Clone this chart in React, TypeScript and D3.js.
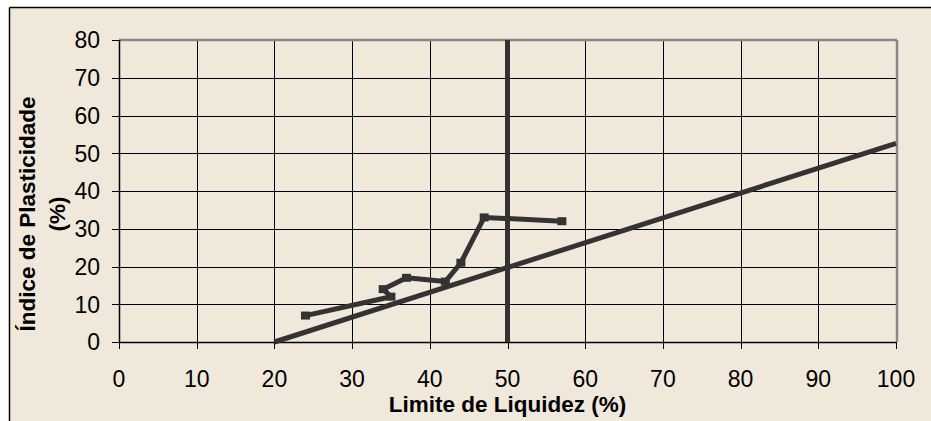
import React from "react";
import * as d3 from "d3";

const xTicks = [0, 10, 20, 30, 40, 50, 60, 70, 80, 90, 100];
const yTicks = [0, 10, 20, 30, 40, 50, 60, 70, 80];
const samplesLL = [24, 35, 34, 37, 42, 44, 47, 57];
const samplesIP = [7, 12, 14, 17, 16, 21, 33, 32];
const aLineLL = [20, 100];
const aLineIP = [0, 52.6];
const dividerLL = [50, 50];
const dividerIP = [0, 80];
const xTitle = "Limite de Liquidez (%)";
const yTitleLines = ["Índice de Plasticidade", "(%)"];

const W = 931;
const H = 421;
const left = 119, right = 896, top = 40, bottom = 342;
const dark = "#333333";
const font = "Liberation Sans, Arial, sans-serif";

export default function App() {
  const x = d3.scaleLinear().domain([0, 100]).range([left, right]);
  const y = d3.scaleLinear().domain([0, 80]).range([bottom, top]);
  const line = d3
    .line<[number, number]>()
    .x((d) => x(d[0]))
    .y((d) => y(d[1]));
  const samples: [number, number][] = samplesLL.map((v, i) => [v, samplesIP[i]]);
  const aLine: [number, number][] = aLineLL.map((v, i) => [v, aLineIP[i]]);
  const divider: [number, number][] = dividerLL.map((v, i) => [v, dividerIP[i]]);

  return (
    <svg
      width={W}
      height={H}
      style={{ position: "absolute", left: 0, top: 0, display: "block" }}
    >
      <rect x={0} y={0} width={W} height={H} fill="#ffffff" />
      <rect x={10} y={8} width={W - 10} height={H - 8} fill="#F0E8DA" />
      <line x1={9.5} y1={7.5} x2={W} y2={7.5} stroke="#000" strokeWidth={1.5} />
      <line x1={9.5} y1={7.5} x2={9.5} y2={H} stroke="#000" strokeWidth={1.5} />

      {yTicks.map((t) => (
        <line
          key={"gy" + t}
          x1={left - 7}
          x2={right}
          y1={Math.round(y(t)) + 0.5}
          y2={Math.round(y(t)) + 0.5}
          stroke="#000"
          strokeWidth={1}
        />
      ))}
      {xTicks.map((t) => (
        <line
          key={"gx" + t}
          x1={Math.round(x(t)) + 0.5}
          x2={Math.round(x(t)) + 0.5}
          y1={top}
          y2={bottom + 7}
          stroke="#000"
          strokeWidth={1}
        />
      ))}
      <line x1={left} x2={right + 1} y1={top} y2={top} stroke="#888" strokeWidth={2.5} />
      <line x1={right + 1} x2={right + 1} y1={top} y2={bottom} stroke="#888" strokeWidth={2.5} />
      <line x1={left + 0.5} x2={left + 0.5} y1={top} y2={bottom} stroke="#000" strokeWidth={1.5} />
      <line x1={left} x2={right} y1={bottom + 0.5} y2={bottom + 0.5} stroke="#000" strokeWidth={1.5} />

      {yTicks.map((t) => (
        <text
          key={"ly" + t}
          x={100}
          y={y(t)}
          dy="0.36em"
          textAnchor="end"
          fontFamily={font}
          fontSize={23}
          fill="#000"
        >
          {t}
        </text>
      ))}
      {xTicks.map((t) => (
        <text
          key={"lx" + t}
          x={x(t)}
          y={387}
          textAnchor="middle"
          fontFamily={font}
          fontSize={23}
          fill="#000"
        >
          {t}
        </text>
      ))}

      <path d={line(aLine) || ""} fill="none" stroke={dark} strokeWidth={5} />
      <path d={line(divider) || ""} fill="none" stroke={dark} strokeWidth={5} />

      <path d={line(samples) || ""} fill="none" stroke={dark} strokeWidth={5} strokeLinejoin="round" />
      {samples.map((d, i) => (
        <rect
          key={"m" + i}
          x={x(d[0]) - 4.5}
          y={y(d[1]) - 4}
          width={9}
          height={8}
          fill={dark}
        />
      ))}

      <text
        x={x(50)}
        y={412}
        textAnchor="middle"
        fontFamily={font}
        fontSize={22.5}
        fontWeight="bold"
        fill="#000"
      >
        {xTitle}
      </text>
      <g transform={`translate(35,214) rotate(-90)`}>
        <text
          x={0}
          y={0}
          textAnchor="middle"
          fontFamily={font}
          fontSize={22.5}
          fontWeight="bold"
          fill="#000"
        >
          {yTitleLines[0]}
        </text>
        <text
          x={0}
          y={30}
          textAnchor="middle"
          fontFamily={font}
          fontSize={22.5}
          fontWeight="bold"
          fill="#000"
        >
          {yTitleLines[1]}
        </text>
      </g>
    </svg>
  );
}
